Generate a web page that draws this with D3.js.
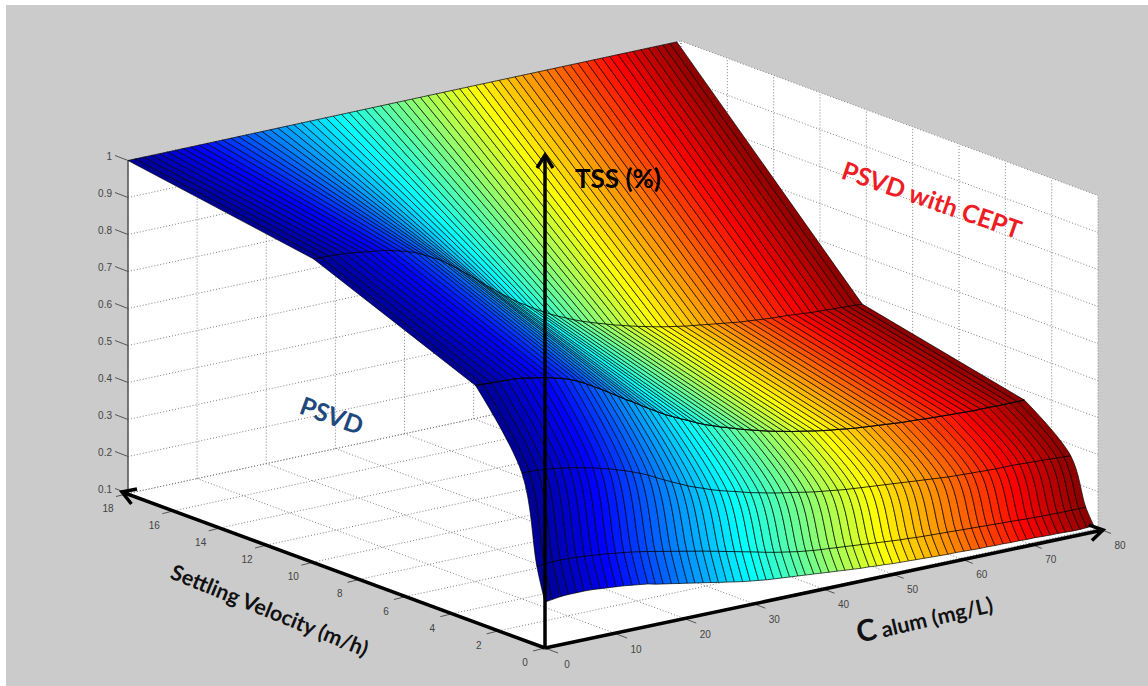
<!DOCTYPE html>
<html>
<head>
<meta charset="utf-8">
<script src="https://cdn.jsdelivr.net/npm/d3@7"></script>
<style>
body { margin: 0; background: #fff; }
text { font-family: "Liberation Sans", Arial, sans-serif; }
.note { font-family: Lato, "Open Sans", sans-serif; font-weight: 700; }
</style>
</head>
<body>
<svg class="chart" width="1148" height="686"></svg>
<script>
var velocityTicks = [0, 2, 4, 6, 8, 10, 12, 14, 16, 18];
var alumTicks = [0, 10, 20, 30, 40, 50, 60, 70, 80];
var tssTicks = [0.1, 0.2, 0.3, 0.4, 0.5, 0.6, 0.7, 0.8, 0.9, 1];

// surface columns (mg/L)
var alum = [0,1.1,2.3,3.4,4.6,5.7,6.9,8,9.1,10.3,11.4,12.6,13.7,14.9,16,17.1,18.3,19.4,20.6,21.7,22.9,24,25.1,26.3,27.4,28.6,29.7,30.9,32,33.1,34.3,35.4,36.6,37.7,38.9,40,41.1,42.3,43.4,44.6,45.7,46.9,48,49.1,50.3,51.4,52.6,53.7,54.9,56,57.1,58.3,59.4,60.6,61.7,62.9,64,65.1,66.3,67.4,68.6,69.7,70.9,72,73.1,74.2,75.3,76.4,77.4,78.4,79.4];

// surface rows (m/h)
var velocity = [0, 0.35, 1, 3, 10, 18];
var tssV0 = [.224,.227,.230,.231,.231,.231,.230,.228,.226,.224,.222,.219,.216,.213,.208,.204,.200,.196,.192,.188,.184,.180,.176,.172,.168,.164,.161,.158,.155,.153,.151,.149,.147,.145,.143,.141,.139,.137,.135,.133,.131,.130,.128,.127,.125,.124,.123,.122,.121,.120,.119,.118,.118,.117,.116,.115,.115,.114,.114,.113,.113,.112,.112,.111,.110,.110,.109,.108,.108,.109,.110];
var tssV035 = [.312,.315,.316,.316,.315,.314,.312,.310,.308,.305,.302,.299,.296,.292,.288,.284,.279,.275,.270,.266,.261,.257,.252,.247,.242,.237,.232,.227,.222,.217,.212,.208,.204,.200,.197,.194,.192,.190,.188,.186,.184,.182,.180,.178,.176,.174,.172,.171,.169,.168,.167,.166,.165,.164,.163,.162,.161,.160,.159,.158,.157,.156,.155,.154,.153,.153,.152,.152,.152,.152,.152];
var tssV1 = [.550,.549,.548,.546,.543,.540,.536,.532,.527,.522,.516,.510,.503,.496,.488,.480,.470,.459,.448,.438,.428,.418,.410,.402,.394,.387,.381,.375,.369,.363,.358,.353,.348,.344,.340,.336,.332,.328,.325,.322,.319,.316,.314,.312,.310,.308,.306,.304,.302,.300,.298,.296,.294,.292,.290,.289,.288,.287,.286,.285,.284,.284,.284,.283,.282,.281,.280,.279,.278,.277,.276];
var tssV3 = [.740,.739,.738,.737,.736,.735,.732,.728,.724,.720,.714,.708,.701,.691,.680,.668,.655,.642,.628,.615,.602,.589,.576,.563,.551,.540,.530,.520,.510,.501,.493,.485,.478,.471,.464,.458,.452,.446,.441,.436,.431,.427,.423,.419,.415,.412,.409,.406,.403,.401,.399,.397,.395,.393,.391,.390,.389,.387,.386,.385,.384,.383,.382,.381,.381,.381,.380,.380,.380,.380,.380];
var tssV10 = [.920,.919,.918,.917,.915,.913,.910,.907,.904,.901,.896,.890,.884,.876,.866,.855,.843,.829,.813,.797,.780,.763,.746,.729,.713,.697,.682,.669,.656,.644,.632,.622,.612,.603,.594,.587,.580,.573,.566,.560,.554,.548,.543,.538,.533,.529,.525,.521,.518,.515,.512,.509,.506,.503,.500,.498,.496,.494,.492,.491,.490,.488,.486,.484,.483,.482,.481,.480,.479,.478,.477];
var tssV18 = [1,1,1,1,1,1,1,1,1,1,1,1,1,1,1,1,1,1,1,1,1,1,1,1,1,1,1,1,1,1,1,1,1,1,1,1,1,1,1,1,1,1,1,1,1,1,1,1,1,1,1,1,1,1,1,1,1,1,1,1,1,1,1,1,1,1,1,1,1,1,1];
var tssRows = [tssV0, tssV035, tssV1, tssV3, tssV10, tssV18];

var svg = d3.select('.chart');

// orthographic view: each data axis maps to a screen offset from the front corner
var origin = [545, 648];
var ax = d3.scaleLinear().domain([0, 80]).range([0, 553]);
var ay = d3.scaleLinear().domain([0, 80]).range([0, -119.5]);
var vx = d3.scaleLinear().domain([0, 18]).range([0, -417]);
var vy = d3.scaleLinear().domain([0, 18]).range([0, -154.5]);
var zy = d3.scaleLinear().domain([0.1, 1]).range([0, -333]);

function project(a, v, z) {
  return [origin[0] + ax(a) + vx(v), origin[1] + ay(a) + vy(v) + zy(z)];
}

var jet = d3.scaleLinear()
  .domain([0, 10, 30, 50, 70, 80])
  .range(['#00008f', '#0000ff', '#00ffff', '#ffff00', '#ff0000', '#800000']);

svg.append('rect').attr('x', 6).attr('y', 5).attr('width', 1142).attr('height', 681).attr('fill', '#cbcbcb');

// white box behind the surface
var line = d3.line();
svg.append('path')
  .attr('fill', '#fff')
  .attr('d', line([project(0, 0, .1), project(80, 0, .1), project(80, 0, 1), project(80, 18, 1), project(0, 18, 1), project(0, 18, .1)]) + 'Z');

var grid = svg.append('g').attr('fill', 'none').attr('stroke', '#808080').attr('stroke-width', 1).attr('stroke-dasharray', '1,2');
function gridLine(p, q) {
  grid.append('path').attr('d', line([p, q]));
}
alumTicks.forEach(function(a) {
  gridLine(project(a, 0, .1), project(a, 18, .1));
  gridLine(project(a, 18, .1), project(a, 18, 1));
});
velocityTicks.forEach(function(v) {
  gridLine(project(0, v, .1), project(80, v, .1));
  gridLine(project(80, v, .1), project(80, v, 1));
});
tssTicks.forEach(function(z) {
  gridLine(project(0, 18, z), project(80, 18, z));
  gridLine(project(80, 18, z), project(80, 0, z));
});

// axis lines, ticks and tick labels
var axes = svg.append('g').attr('stroke', '#555').attr('stroke-width', 1).attr('fill', 'none');
axes.append('path').attr('d', line([project(0, 18, .1), project(0, 18, 1)])).attr('stroke-width', 1.5);
var labels = svg.append('g').attr('font-size', 10).attr('fill', '#444').attr('text-anchor', 'middle');

tssTicks.forEach(function(z) {
  var p = project(0, 18, z);
  axes.append('path').attr('d', line([p, [p[0] - 13, p[1] - 5]]));
  labels.append('text').attr('x', p[0] - 16).attr('y', p[1] - 1).attr('text-anchor', 'end').text(z);
});
velocityTicks.forEach(function(v) {
  var p = project(0, v, .1);
  axes.append('path').attr('d', line([p, [p[0] - 12, p[1] + 3]]));
  labels.append('text').attr('x', p[0] - 20).attr('y', p[1] + 18).text(v);
});
alumTicks.forEach(function(a) {
  var p = project(a, 0, .1);
  axes.append('path').attr('d', line([p, [p[0] + 13, p[1] + 5]]));
  labels.append('text').attr('x', p[0] + 22).attr('y', p[1] + 20).text(a);
});

// surface: upper bands have straight edges, the last bands near v=0 bend
var lowerLine = d3.line().curve(d3.curveCatmullRom);
var facets = svg.append('g').attr('stroke', '#000').attr('stroke-width', 1).attr('stroke-opacity', .68).attr('stroke-linejoin', 'round');

function column(i, from, to) {
  var pts = [];
  for (var r = from; r <= to; r++) pts.push(project(alum[i], velocity[r], tssRows[r][i]));
  return pts;
}

for (var i = 0; i < alum.length - 1; i++) {
  var c = jet((alum[i] + alum[i + 1]) / 2);
  facets.append('path').attr('fill', c).attr('d',
    lowerLine(column(i, 0, 3)) + lowerLine(column(i + 1, 0, 3).reverse()).replace('M', 'L') + 'Z');
  facets.append('path').attr('fill', c).attr('d',
    line(column(i, 3, 5)) + line(column(i + 1, 3, 5).reverse()).replace('M', 'L') + 'Z');
}

var rowLines = svg.append('g').attr('fill', 'none').attr('stroke', '#000').attr('stroke-width', 1).attr('stroke-opacity', .8);
tssRows.forEach(function(row, r) {
  if (r == 0 || r == 5) return;
  rowLines.append('path').attr('d', line(row.map(function(z, i) {
    return project(alum[i], velocity[r], z);
  })));
});

// hand drawn annotation arrows
var defs = svg.append('defs');
defs.append('marker').attr('id', 'head')
  .attr('markerUnits', 'userSpaceOnUse').attr('orient', 'auto')
  .attr('viewBox', '-16 -10 20 20').attr('markerWidth', 20).attr('markerHeight', 20)
  .attr('refX', 0).attr('refY', 0)
  .append('path').attr('d', 'M-13,-8L0,0L-13,8').attr('fill', 'none').attr('stroke', '#000').attr('stroke-width', 3.5);

var arrows = svg.append('g').attr('stroke', '#000').attr('stroke-width', 3.5).attr('fill', 'none');
[[545, 155], [122, 492], [1103, 530]].forEach(function(tip) {
  arrows.append('path').attr('d', line([origin, tip])).attr('marker-end', 'url(#head)');
});

// annotations
function note(txt, x, y, angle, size, color) {
  return svg.append('text').attr('class', 'note')
    .attr('transform', 'translate(' + x + ',' + y + ') rotate(' + angle + ')')
    .attr('font-size', size).attr('fill', color).text(txt);
}
note('TSS (%)', 575, 188, 0, 26, '#000');
note('PSVD with CEPT', 840, 178, 19, 25, '#ee1c25');
note('PSVD', 298, 413, 20, 25, '#1f497d');
note('Settling Velocity (m/h)', 169, 578, 22, 21.5, '#111');
var cAlum = note('C', 859, 643, -13, 30, '#111');
cAlum.append('tspan').attr('font-size', 21.5).attr('dx', 5).text('alum (mg/L)');
</script>
</body>
</html>
